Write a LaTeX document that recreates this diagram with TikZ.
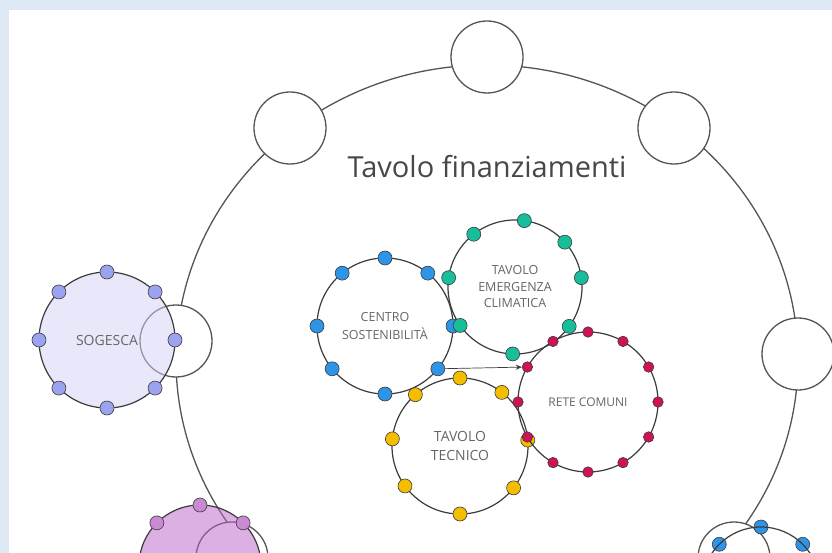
\documentclass[tikz,border=0pt]{standalone}
\usepackage{fontspec}
\setmainfont{Open Sans}
\usetikzlibrary{calc,arrows.meta}

\definecolor{panelbg}{HTML}{DEE9F5}
\definecolor{ringgray}{HTML}{555555}
\definecolor{edgegray}{HTML}{3C3C3C}
\definecolor{labelgray}{HTML}{666666}
\definecolor{sogfill}{HTML}{D3D3F7}
\definecolor{sogdot}{HTML}{9BA3EF}
\definecolor{csblue}{HTML}{2D94E6}
\definecolor{tealdot}{HTML}{18BE9A}
\definecolor{crimsondot}{HTML}{CF1157}
\definecolor{yellowdot}{HTML}{F4BD00}
\definecolor{orchidfill}{HTML}{BB63C7}
\definecolor{orchiddot}{HTML}{C98AD3}

\tikzset{
  ringline/.style={draw=ringgray, line width=1.3pt},
  ringcircle/.style={circle, draw=ringgray, line width=1.3pt, fill=white, minimum size=72pt, inner sep=0pt},
  cluster/.style={circle, draw=edgegray, line width=1.2pt, inner sep=0pt, align=center,
                  text=labelgray, font=\fontsize{12.5}{18}\selectfont},
  tinted/.style={fill opacity=0.5, text opacity=1},
  dotmark/.style={circle, draw=edgegray, line width=0.6pt, minimum size=14pt, inner sep=0pt},
  smalldot/.style={dotmark, minimum size=10.5pt},
  flowarrow/.style={draw=edgegray, line width=0.7pt, -{Stealth[length=6pt,width=5pt]}},
}

\begin{document}
\begin{tikzpicture}[x=1pt,y=-1pt]
  % page and panel
  \useasboundingbox (0,0) rectangle (832,553);
  \fill[panelbg] (0,0) rectangle (832,553);
  \fill[white] (9,10) rectangle (832,553);
  \clip (9,10) rectangle (832,553);

  % outer ring with its seats
  \draw[ringline] (487,360) ellipse [x radius=311pt, y radius=295pt];
  \node[ringcircle] (seattop) at (487,57) {};
  \node[ringcircle] (seatul) at (290,128) {};
  \node[ringcircle] (seatur) at (674,128) {};
  \node[ringcircle] (seatl) at (176,341) {};
  \node[ringcircle] (seatr) at (798,354) {};
  \node[ringcircle] (seatbl) at (232,558) {};
  \node[ringcircle] (seatbr) at (734,558) {};

  \node[font=\fontsize{29}{34}\selectfont, text=black!72] (title) at (487,167) {Tavolo finanziamenti};

  % SOGESCA
  \node[cluster, tinted, minimum size=136pt, fill=sogfill,
        font=\fontsize{14}{17}\selectfont] (sog) at (107,340) {SOGESCA};
  \foreach \a [count=\i] in {0,45,...,315}
    \node[dotmark, fill=sogdot] (sog-\i) at ([shift={(\a:68pt)}]sog.center) {};

  % orchid group, lower left
  \node[cluster, tinted, minimum size=122pt, fill=orchidfill] (orchid) at (200,566) {};
  \foreach \a [count=\i] in {45,90,135}
    \node[dotmark, fill=orchiddot] (orchid-\i) at ([shift={(\a:61pt)}]orchid.center) {};

  % blue group, lower right
  \foreach \a [count=\i] in {45,90,135}
    \node[dotmark, fill=csblue] (bluegrp-\i) at ([shift={(\a:59pt)}]761,586) {};
  \node[cluster, minimum size=118pt] (bluegrp) at (761,586) {};

  % CENTRO SOSTENIBILITA
  \node[cluster, minimum size=136pt] (cs) at (385,326) {CENTRO\\SOSTENIBILITÀ};
  \foreach \a [count=\i] in {0,51,90,129,180,219,270,321}
    \node[dotmark, fill=csblue] (cs-\i) at ([shift={(\a:68pt)}]cs.center) {};

  % TAVOLO EMERGENZA CLIMATICA
  \node[cluster, minimum size=134pt, font=\fontsize{12.5}{16.5}\selectfont] (tec) at (515,287) {TAVOLO\\EMERGENZA\\CLIMATICA};
  \foreach \a [count=\i] in {8,42,82,128,172,215,268,324}
    \node[dotmark, fill=tealdot] (tec-\i) at ([shift={(\a:67pt)}]tec.center) {};

  % TAVOLO TECNICO
  \node[cluster, minimum size=136pt, font=\fontsize{14}{19}\selectfont] (tt) at (460,446) {TAVOLO\\TECNICO};
  \foreach \a [count=\i] in {5,52,90,131,174,216,270,322}
    \node[dotmark, fill=yellowdot] (tt-\i) at ([shift={(\a:68pt)}]tt.center) {};

  % RETE COMUNI
  \node[cluster, minimum size=140pt, font=\fontsize{12}{15}\selectfont] (rc) at (588,402) {RETE COMUNI};
  \foreach \a [count=\i] in {0,30,...,330}
    \node[smalldot, fill=crimsondot] (rc-\i) at ([shift={(\a:70pt)}]rc.center) {};

  % link from the centre to the network of municipalities
  \draw[flowarrow] (cs-8) -- (rc-6);
\end{tikzpicture}
\end{document}
